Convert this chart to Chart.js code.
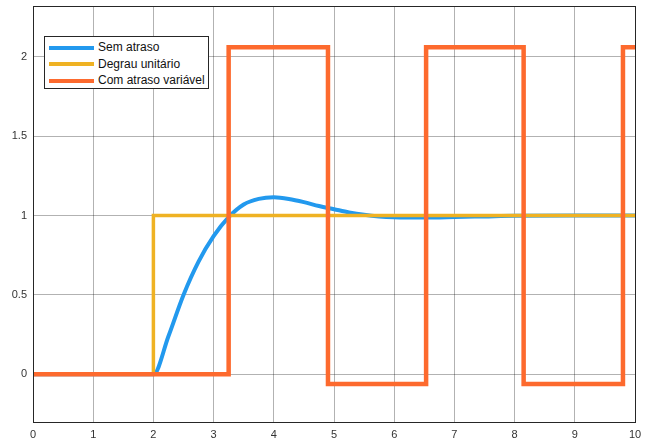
<!DOCTYPE html>
<html>
<head>
<meta charset="utf-8">
<script src="https://cdn.jsdelivr.net/npm/chart.js@4/dist/chart.umd.min.js"></script>
<style>
  body { margin: 0; background: #fff; }
  #wrap { position: relative; width: 654px; height: 443px; }
  #legend {
    position: absolute; left: 44px; top: 36px; width: 163px; height: 51px;
    border: 1px solid #262626; background: #fff;
    font-family: "Liberation Sans", Arial, sans-serif; font-size: 12px; color: #111;
  }
  .item { position: absolute; left: 4px; height: 16px; line-height: 16px; white-space: nowrap; }
  .item span.ln { display: inline-block; width: 45px; height: 4px; vertical-align: middle; margin-right: 4px; }
</style>
</head>
<body>
<div id="wrap">
  <canvas id="grafico" width="654" height="443"></canvas>
  <div id="legend"></div>
</div>
<script>
// nomes das séries
var nomes = ['Sem atraso', 'Degrau unitário', 'Com atraso variável'];
var cores = ['#2299ee', '#efb223', '#fd6a2e'];

// resposta sem atraso (tempo, valor)
var tempoSemAtraso = [0, 1, 2, 2.25, 2.5, 2.75, 3.0, 3.25, 3.5, 3.75, 4.0, 4.25, 4.5, 4.75, 5.0, 5.25, 5.5, 5.75, 6.0, 6.5, 7.0, 7.5, 8.0, 9.0, 10];
var valorSemAtraso = [0, 0, 0, 0.24, 0.5, 0.71, 0.87, 0.99, 1.07, 1.105, 1.115, 1.105, 1.085, 1.06, 1.04, 1.02, 1.005, 0.995, 0.99, 0.988, 0.991, 0.995, 0.999, 1, 1];

// degrau unitário
var tempoDegrau = [0, 2, 10];
var valorDegrau = [0, 1, 1];

// com atraso variável (valor vale a partir do instante)
var tempoAtraso = [0, 3.25, 4.9, 6.53, 8.15, 9.8, 10];
var valorAtraso = [0, 2.06, -0.06, 2.06, -0.06, 2.06, 2.06];

var ticksX = [0, 1, 2, 3, 4, 5, 6, 7, 8, 9, 10];
var ticksY = [0, 0.5, 1, 1.5, 2];

function pontos(t, v) {
  return t.map(function(x, i) { return { x: x, y: v[i] }; });
}

// legenda html
var leg = document.getElementById('legend');
nomes.forEach(function(n, i) {
  var d = document.createElement('div');
  d.className = 'item';
  d.style.top = (2 + i * 16.5) + 'px';
  d.innerHTML = '<span class="ln" style="background:' + cores[i] + '"></span>' + n;
  leg.appendChild(d);
});

// caixa em volta da área do gráfico
var caixa = {
  id: 'caixa',
  afterDraw: function(chart) {
    var a = chart.chartArea, ctx = chart.ctx;
    ctx.save();
    ctx.strokeStyle = '#262626';
    ctx.lineWidth = 1;
    ctx.strokeRect(Math.round(a.left) + 0.5, Math.round(a.top) + 0.5, Math.round(a.right - a.left), Math.round(a.bottom - a.top));
    ctx.restore();
  }
};

var fonte = { family: '"Liberation Sans", Arial, sans-serif', size: 11 };

new Chart(document.getElementById('grafico').getContext('2d'), {
  type: 'line',
  data: {
    datasets: [
      {
        label: nomes[0],
        data: pontos(tempoSemAtraso, valorSemAtraso),
        borderColor: cores[0],
        borderWidth: 4,
        pointRadius: 0,
        cubicInterpolationMode: 'monotone',
        order: 3
      },
      {
        label: nomes[1],
        data: pontos(tempoDegrau, valorDegrau),
        borderColor: cores[1],
        borderWidth: 3.5,
        pointRadius: 0,
        stepped: true,
        order: 2
      },
      {
        label: nomes[2],
        data: pontos(tempoAtraso, valorAtraso),
        borderColor: cores[2],
        borderWidth: 4.5,
        pointRadius: 0,
        stepped: true,
        order: 1
      }
    ]
  },
  options: {
    responsive: false,
    animation: false,
    layout: { padding: { top: 6, right: 19, left: 0, bottom: 0 } },
    plugins: { legend: { display: false }, tooltip: { enabled: false } },
    scales: {
      x: {
        type: 'linear', min: 0, max: 10,
        afterBuildTicks: function(s) { s.ticks = ticksX.map(function(v) { return { value: v }; }); },
        afterFit: function(s) { s.height = 21; s.paddingLeft = 0; s.paddingRight = 0; },
        grid: { color: 'rgba(0,0,0,0.3)', drawTicks: false },
        border: { color: '#262626' },
        ticks: { font: fonte, color: '#333', padding: 6, maxRotation: 0 }
      },
      y: {
        type: 'linear', min: -0.3, max: 2.32,
        afterBuildTicks: function(s) { s.ticks = ticksY.map(function(v) { return { value: v }; }); },
        afterFit: function(s) { s.width = 33; s.paddingTop = 0; s.paddingBottom = 0; },
        grid: { color: 'rgba(0,0,0,0.3)', drawTicks: false },
        border: { color: '#262626' },
        ticks: { font: fonte, color: '#333', padding: 6, callback: function(v) { return String(v); } }
      }
    }
  },
  plugins: [caixa]
});
</script>
</body>
</html>
